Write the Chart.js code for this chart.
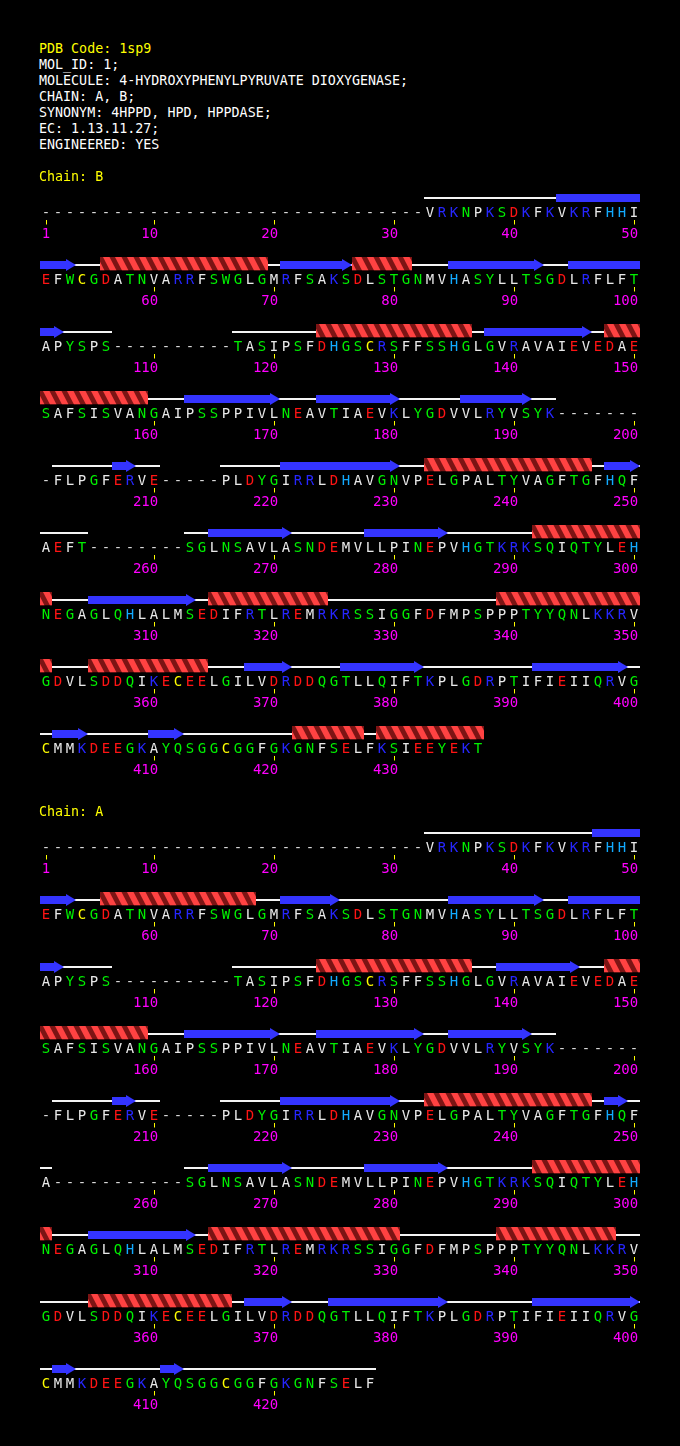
<!DOCTYPE html>
<html><head><meta charset="utf-8">
<script src="https://cdn.jsdelivr.net/npm/chart.js@4/dist/chart.umd.min.js"></script>
<style>
html,body{margin:0;padding:0;background:#000;}
#page{position:relative;width:680px;height:1446px;background:#000;overflow:hidden;}
.hdr{position:absolute;left:39px;margin:0;font-family:"DejaVu Sans Mono",monospace;font-size:13.33px;line-height:16px;color:#fff;white-space:pre;z-index:2;}
.y{color:#ffff00;}
canvas{position:absolute;left:0;}
</style></head><body>
<div id="page">
<div class="hdr" style="top:40.7px"><span class="y">PDB Code: 1sp9</span>
MOL_ID: 1;
MOLECULE: 4-HYDROXYPHENYLPYRUVATE DIOXYGENASE;
CHAIN: A, B;
SYNONYM: 4HPPD, HPD, HPPDASE;
EC: 1.13.11.27;
ENGINEERED: YES</div>
<div class="hdr y" style="top:169.1px">Chain: B</div>
<div class="hdr y" style="top:804.1px">Chain: A</div>
<canvas id="cB" width="680" height="620" style="top:170px"></canvas>
<canvas id="cA" width="680" height="620" style="top:805px"></canvas>
</div>
<script>
// ---------------- DATA ----------------
const perRow = 50;

const seqRowsB = [
  "--------------------------------VRKNPKSDKFKVKRFHHI",
  "EFWCGDATNVARRFSWGLGMRFSAKSDLSTGNMVHASYLLTSGDLRFLFT",
  "APYSPS----------TASIPSFDHGSCRSFFSSHGLGVRAVAIEVEDAE",
  "SAFSISVANGAIPSSPPIVLNEAVTIAEVKLYGDVVLRYVSYK-------",
  "-FLPGFERVE-----PLDYGIRRLDHAVGNVPELGPALTYVAGFTGFHQF",
  "AEFT--------SGLNSAVLASNDEMVLLPINEPVHGTKRKSQIQTYLEH",
  "NEGAGLQHLALMSEDIFRTLREMRKRSSIGGFDFMPSPPPTYYQNLKKRV",
  "GDVLSDDQIKECEELGILVDRDDQGTLLQIFTKPLGDRPTIFIEIIQRVG",
  "CMMKDEEGKAYQSGGCGGFGKGNFSELFKSIEEYEKT"
];
const seqRowsA = [
  "--------------------------------VRKNPKSDKFKVKRFHHI",
  "EFWCGDATNVARRFSWGLGMRFSAKSDLSTGNMVHASYLLTSGDLRFLFT",
  "APYSPS----------TASIPSFDHGSCRSFFSSHGLGVRAVAIEVEDAE",
  "SAFSISVANGAIPSSPPIVLNEAVTIAEVKLYGDVVLRYVSYK-------",
  "-FLPGFERVE-----PLDYGIRRLDHAVGNVPELGPALTYVAGFTGFHQF",
  "A-----------SGLNSAVLASNDEMVLLPINEPVHGTKRKSQIQTYLEH",
  "NEGAGLQHLALMSEDIFRTLREMRKRSSIGGFDFMPSPPPTYYQNLKKRV",
  "GDVLSDDQIKECEELGILVDRDDQGTLLQIFTKPLGDRPTIFIEIIQRVG",
  "CMMKDEEGKAYQSGGCGGFGKGNFSELF"
];

const strandsB = [[44,53],[71,76],[85,92],[95,102],[138,146],[163,170],[174,180],[186,191],
  [207,208],[221,230],[248,250],[265,271],[278,284],[305,313],[368,371],[376,382],[392,399],
  [402,404],[410,412]];
const helicesB = [[56,69],[77,81],[124,136],[148,159],[233,246],[292,301],[315,324],[339,351],
  [355,364],[422,427],[429,437]];

const strandsA = [[47,53],[71,75],[85,92],[95,102],[139,145],[163,170],[174,182],[185,191],
  [207,208],[221,230],[248,249],[265,271],[278,284],[305,313],[368,371],[375,384],[392,400],
  [402,403],[411,412]];
const helicesA = [[56,68],[124,136],[148,159],[233,246],[292,301],[315,330],[339,348],[355,366]];

const numberTicksB = [1,10,20,30,40,50,60,70,80,90,100,110,120,130,140,150,160,170,180,190,200,
  210,220,230,240,250,260,270,280,290,300,310,320,330,340,350,360,370,380,390,400,410,420,430];
const numberTicksA = [1,10,20,30,40,50,60,70,80,90,100,110,120,130,140,150,160,170,180,190,200,
  210,220,230,240,250,260,270,280,290,300,310,320,330,340,350,360,370,380,390,400,410,420];

// ---------------- STYLE ----------------
const residueColour = {
  K:'#2626ff', R:'#2626ff', H:'#12aaff',
  D:'#ff1414', E:'#ff1414',
  S:'#00f000', T:'#00f000', N:'#00f000', Q:'#00f000', G:'#00f000', Y:'#00f000', W:'#00f000',
  C:'#ffff00',
  '-':'#d8d8d8'
};
const defaultColour = '#e8e8e8';
const FONT = '14px "DejaVu Sans Mono", monospace';

function makeChain(canvasId, rows, strands, helices, ticks){
  const seq = rows.join('');
  const points = [];
  for (let i = 0; i < seq.length; i++){
    points.push({x: (i % perRow) + 1, y: Math.floor(i / perRow)});
  }
  const plugin = {
    id: 'seqDraw_' + canvasId,
    afterDatasetsDraw(chart){
      const ctx = chart.ctx;
      const xs = chart.scales.x, ys = chart.scales.y;
      const hw = (xs.getPixelForValue(1) - xs.getPixelForValue(0)) / 2;
      const rowOf = r => Math.floor((r - 1) / perRow);
      const X = r => xs.getPixelForValue(((r - 1) % perRow) + 1);
      const Y = r => ys.getPixelForValue(rowOf(r));
      const pieces = (a, b) => {
        const out = []; let s = a;
        while (s <= b){ const e = Math.min(b, (rowOf(s) + 1) * perRow); out.push([s, e]); s = e + 1; }
        return out;
      };
      ctx.save();
      // coil
      ctx.fillStyle = '#f4f4f4';
      let runStart = null;
      for (let r = 1; r <= seq.length + 1; r++){
        const present = r <= seq.length && seq[r - 1] !== '-';
        if (present && runStart === null) runStart = r;
        if (!present && runStart !== null){
          pieces(runStart, r - 1).forEach(([s, e]) => {
            const xL = X(s) - hw, xR = X(e) + hw, y = Y(s);
            ctx.fillRect(xL, y - 15, xR - xL, 2);
          });
          runStart = null;
        }
      }
      // strands
      ctx.fillStyle = '#3434ff';
      strands.forEach(([a, b]) => {
        pieces(a, b).forEach(([s, e]) => {
          const xL = X(s) - hw, xR = X(e) + hw, y = Y(s);
          if (e === b){
            const hl = 10;
            ctx.fillRect(xL, y - 18, Math.max(0, xR - hl - xL), 8);
            ctx.beginPath();
            ctx.moveTo(xR - hl, y - 20);
            ctx.lineTo(xR, y - 14);
            ctx.lineTo(xR - hl, y - 8);
            ctx.closePath();
            ctx.fill();
          } else {
            ctx.fillRect(xL, y - 18, xR - xL, 8);
          }
        });
      });
      // helices
      helices.forEach(([a, b]) => {
        pieces(a, b).forEach(([s, e]) => {
          const xL = X(s) - hw, xR = X(e) + hw, y = Y(s);
          const top = y - 22, bot = y - 8.5;
          ctx.save();
          ctx.beginPath();
          ctx.rect(xL, top, xR - xL, bot - top);
          ctx.clip();
          ctx.fillStyle = '#7c1414';
          ctx.fillRect(xL, top, xR - xL, bot - top);
          ctx.fillStyle = '#ff4242';
          for (let x0 = xL - 9; x0 < xR; x0 += 2 * hw){
            ctx.beginPath();
            ctx.moveTo(x0, top);
            ctx.lineTo(x0 + 6.5, top);
            ctx.lineTo(x0 + 13.5, bot);
            ctx.lineTo(x0 + 7, bot);
            ctx.closePath();
            ctx.fill();
          }
          ctx.restore();
        });
      });
      // residue letters
      ctx.font = FONT;
      ctx.textAlign = 'center';
      ctx.textBaseline = 'alphabetic';
      const meta = chart.getDatasetMeta(0);
      meta.data.forEach((el, i) => {
        const ch = seq[i];
        ctx.fillStyle = residueColour[ch] || defaultColour;
        ctx.fillText(ch, el.x, el.y + 5.3);
      });
      // ticks and numbers
      ticks.forEach(t => {
        const x = X(t), y = Y(t);
        ctx.fillStyle = '#ffff00';
        ctx.fillRect(Math.floor(x), y + 8, 1, 4.5);
        ctx.fillStyle = '#ff00ff';
        ctx.textAlign = 'right';
        ctx.fillText(String(t), x + 4.2, y + 26.3);
      });
      ctx.restore();
    }
  };
  new Chart(document.getElementById(canvasId), {
    type: 'scatter',
    data: { datasets: [{ label: 'residues', data: points, pointRadius: 0, pointHoverRadius: 0, showLine: false }] },
    options: {
      responsive: false,
      animation: false,
      events: [],
      layout: { padding: { left: 40, right: 40, top: 8.5, bottom: 8.5 } },
      plugins: { legend: { display: false }, tooltip: { enabled: false }, title: { display: false } },
      scales: {
        x: { type: 'linear', min: 0.5, max: 50.5, display: false },
        y: { type: 'linear', min: -0.5, max: 8.5, reverse: true, display: false }
      }
    },
    plugins: [plugin]
  });
}

makeChain('cB', seqRowsB, strandsB, helicesB, numberTicksB);
makeChain('cA', seqRowsA, strandsA, helicesA, numberTicksA);
</script>
</body></html>
